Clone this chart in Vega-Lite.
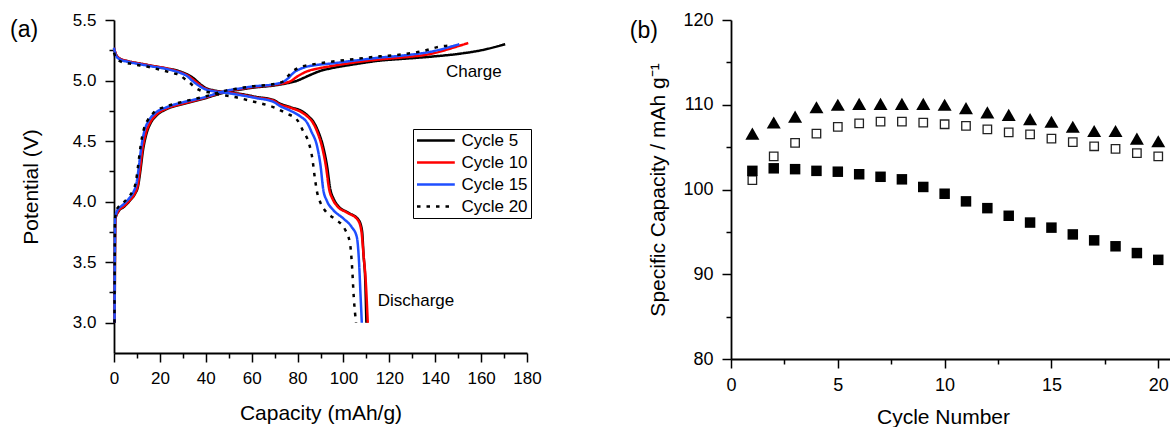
{
  "$schema": "https://vega.github.io/schema/vega-lite/v6.json",
  "padding": {"left": 10, "top": 11, "right": 0, "bottom": 0},
  "spacing": 87,
  "config": {
    "view": {"stroke": null},
    "font": "Liberation Sans",
    "axis": {"domainColor": "black", "tickColor": "black", "labelColor": "black", "titleColor": "black", "grid": false, "titleFontWeight": "normal", "labelFont": "Liberation Sans", "titleFont": "Liberation Sans", "domainWidth": 1.8, "tickWidth": 1.5, "labelOverlap": false, "labelFlush": false, "labelBound": false},
    "text": {"font": "Liberation Sans", "color": "black"}
  },
  "datasets": {
    "curves": [
      {"cycle":"Cycle 5","branch":"charge","cap":0.3,"v":3.0},{"cycle":"Cycle 5","branch":"charge","cap":0.4,"v":3.5},{"cycle":"Cycle 5","branch":"charge","cap":0.6,"v":3.86},{"cycle":"Cycle 5","branch":"charge","cap":2,"v":3.92},{"cycle":"Cycle 5","branch":"charge","cap":4.5,"v":3.96},{"cycle":"Cycle 5","branch":"charge","cap":7,"v":4.01},{"cycle":"Cycle 5","branch":"charge","cap":9,"v":4.06},{"cycle":"Cycle 5","branch":"charge","cap":10.5,"v":4.13},{"cycle":"Cycle 5","branch":"charge","cap":11.6,"v":4.27},{"cycle":"Cycle 5","branch":"charge","cap":12.6,"v":4.42},{"cycle":"Cycle 5","branch":"charge","cap":14,"v":4.55},{"cycle":"Cycle 5","branch":"charge","cap":16,"v":4.65},{"cycle":"Cycle 5","branch":"charge","cap":18.5,"v":4.71},{"cycle":"Cycle 5","branch":"charge","cap":23,"v":4.765},{"cycle":"Cycle 5","branch":"charge","cap":30,"v":4.805},{"cycle":"Cycle 5","branch":"charge","cap":40,"v":4.855},{"cycle":"Cycle 5","branch":"charge","cap":45,"v":4.885},{"cycle":"Cycle 5","branch":"charge","cap":50,"v":4.91},{"cycle":"Cycle 5","branch":"charge","cap":55,"v":4.925},{"cycle":"Cycle 5","branch":"charge","cap":60,"v":4.94},{"cycle":"Cycle 5","branch":"charge","cap":70,"v":4.96},{"cycle":"Cycle 5","branch":"charge","cap":76,"v":4.98},{"cycle":"Cycle 5","branch":"charge","cap":80,"v":5.0},{"cycle":"Cycle 5","branch":"charge","cap":83,"v":5.025},{"cycle":"Cycle 5","branch":"charge","cap":86,"v":5.05},{"cycle":"Cycle 5","branch":"charge","cap":90,"v":5.08},{"cycle":"Cycle 5","branch":"charge","cap":94.3,"v":5.1},{"cycle":"Cycle 5","branch":"charge","cap":105,"v":5.135},{"cycle":"Cycle 5","branch":"charge","cap":116,"v":5.165},{"cycle":"Cycle 5","branch":"charge","cap":125,"v":5.178},{"cycle":"Cycle 5","branch":"charge","cap":138,"v":5.197},{"cycle":"Cycle 5","branch":"charge","cap":150,"v":5.22},{"cycle":"Cycle 5","branch":"charge","cap":160,"v":5.25},{"cycle":"Cycle 5","branch":"charge","cap":170.5,"v":5.3},
      {"cycle":"Cycle 5","branch":"discharge","cap":0,"v":5.26},{"cycle":"Cycle 5","branch":"discharge","cap":1,"v":5.21},{"cycle":"Cycle 5","branch":"discharge","cap":2.6,"v":5.18},{"cycle":"Cycle 5","branch":"discharge","cap":6,"v":5.16},{"cycle":"Cycle 5","branch":"discharge","cap":11.3,"v":5.14},{"cycle":"Cycle 5","branch":"discharge","cap":17,"v":5.12},{"cycle":"Cycle 5","branch":"discharge","cap":23,"v":5.1},{"cycle":"Cycle 5","branch":"discharge","cap":27,"v":5.085},{"cycle":"Cycle 5","branch":"discharge","cap":30.2,"v":5.065},{"cycle":"Cycle 5","branch":"discharge","cap":32.5,"v":5.045},{"cycle":"Cycle 5","branch":"discharge","cap":34.6,"v":5.02},{"cycle":"Cycle 5","branch":"discharge","cap":37,"v":4.98},{"cycle":"Cycle 5","branch":"discharge","cap":39,"v":4.95},{"cycle":"Cycle 5","branch":"discharge","cap":41,"v":4.93},{"cycle":"Cycle 5","branch":"discharge","cap":43.3,"v":4.92},{"cycle":"Cycle 5","branch":"discharge","cap":50,"v":4.9},{"cycle":"Cycle 5","branch":"discharge","cap":55,"v":4.89},{"cycle":"Cycle 5","branch":"discharge","cap":62,"v":4.865},{"cycle":"Cycle 5","branch":"discharge","cap":69.4,"v":4.84},{"cycle":"Cycle 5","branch":"discharge","cap":72.3,"v":4.81},{"cycle":"Cycle 5","branch":"discharge","cap":77,"v":4.78},{"cycle":"Cycle 5","branch":"discharge","cap":82.5,"v":4.74},{"cycle":"Cycle 5","branch":"discharge","cap":85,"v":4.7},{"cycle":"Cycle 5","branch":"discharge","cap":86.9,"v":4.66},{"cycle":"Cycle 5","branch":"discharge","cap":89,"v":4.58},{"cycle":"Cycle 5","branch":"discharge","cap":91.2,"v":4.45},{"cycle":"Cycle 5","branch":"discharge","cap":92.8,"v":4.3},{"cycle":"Cycle 5","branch":"discharge","cap":94.3,"v":4.1},{"cycle":"Cycle 5","branch":"discharge","cap":95.8,"v":4.02},{"cycle":"Cycle 5","branch":"discharge","cap":97.9,"v":3.96},{"cycle":"Cycle 5","branch":"discharge","cap":102,"v":3.91},{"cycle":"Cycle 5","branch":"discharge","cap":106.6,"v":3.85},{"cycle":"Cycle 5","branch":"discharge","cap":108.1,"v":3.76},{"cycle":"Cycle 5","branch":"discharge","cap":108.8,"v":3.55},{"cycle":"Cycle 5","branch":"discharge","cap":109.5,"v":3.35},{"cycle":"Cycle 5","branch":"discharge","cap":110,"v":3.0},
      {"cycle":"Cycle 10","branch":"charge","cap":0.3,"v":3.0},{"cycle":"Cycle 10","branch":"charge","cap":0.4,"v":3.5},{"cycle":"Cycle 10","branch":"charge","cap":0.6,"v":3.86},{"cycle":"Cycle 10","branch":"charge","cap":2,"v":3.925},{"cycle":"Cycle 10","branch":"charge","cap":4.5,"v":3.965},{"cycle":"Cycle 10","branch":"charge","cap":7,"v":4.015},{"cycle":"Cycle 10","branch":"charge","cap":9,"v":4.065},{"cycle":"Cycle 10","branch":"charge","cap":10.4,"v":4.14},{"cycle":"Cycle 10","branch":"charge","cap":11.4,"v":4.28},{"cycle":"Cycle 10","branch":"charge","cap":12.4,"v":4.43},{"cycle":"Cycle 10","branch":"charge","cap":13.8,"v":4.56},{"cycle":"Cycle 10","branch":"charge","cap":15.8,"v":4.655},{"cycle":"Cycle 10","branch":"charge","cap":18.3,"v":4.715},{"cycle":"Cycle 10","branch":"charge","cap":23,"v":4.77},{"cycle":"Cycle 10","branch":"charge","cap":30,"v":4.81},{"cycle":"Cycle 10","branch":"charge","cap":40,"v":4.86},{"cycle":"Cycle 10","branch":"charge","cap":45,"v":4.89},{"cycle":"Cycle 10","branch":"charge","cap":50,"v":4.915},{"cycle":"Cycle 10","branch":"charge","cap":55,"v":4.93},{"cycle":"Cycle 10","branch":"charge","cap":60,"v":4.945},{"cycle":"Cycle 10","branch":"charge","cap":70,"v":4.965},{"cycle":"Cycle 10","branch":"charge","cap":74,"v":4.978},{"cycle":"Cycle 10","branch":"charge","cap":77,"v":4.995},{"cycle":"Cycle 10","branch":"charge","cap":79.6,"v":5.03},{"cycle":"Cycle 10","branch":"charge","cap":84,"v":5.075},{"cycle":"Cycle 10","branch":"charge","cap":89,"v":5.1},{"cycle":"Cycle 10","branch":"charge","cap":94.3,"v":5.118},{"cycle":"Cycle 10","branch":"charge","cap":105,"v":5.15},{"cycle":"Cycle 10","branch":"charge","cap":116,"v":5.175},{"cycle":"Cycle 10","branch":"charge","cap":125,"v":5.19},{"cycle":"Cycle 10","branch":"charge","cap":138,"v":5.22},{"cycle":"Cycle 10","branch":"charge","cap":149.3,"v":5.28},{"cycle":"Cycle 10","branch":"charge","cap":154.4,"v":5.31},
      {"cycle":"Cycle 10","branch":"discharge","cap":0,"v":5.27},{"cycle":"Cycle 10","branch":"discharge","cap":1,"v":5.21},{"cycle":"Cycle 10","branch":"discharge","cap":2.6,"v":5.18},{"cycle":"Cycle 10","branch":"discharge","cap":6,"v":5.16},{"cycle":"Cycle 10","branch":"discharge","cap":11.3,"v":5.14},{"cycle":"Cycle 10","branch":"discharge","cap":17,"v":5.12},{"cycle":"Cycle 10","branch":"discharge","cap":23,"v":5.1},{"cycle":"Cycle 10","branch":"discharge","cap":27,"v":5.08},{"cycle":"Cycle 10","branch":"discharge","cap":30,"v":5.06},{"cycle":"Cycle 10","branch":"discharge","cap":32.3,"v":5.04},{"cycle":"Cycle 10","branch":"discharge","cap":34.3,"v":5.01},{"cycle":"Cycle 10","branch":"discharge","cap":36.7,"v":4.975},{"cycle":"Cycle 10","branch":"discharge","cap":38.7,"v":4.945},{"cycle":"Cycle 10","branch":"discharge","cap":41,"v":4.925},{"cycle":"Cycle 10","branch":"discharge","cap":43.3,"v":4.915},{"cycle":"Cycle 10","branch":"discharge","cap":50,"v":4.9},{"cycle":"Cycle 10","branch":"discharge","cap":55,"v":4.885},{"cycle":"Cycle 10","branch":"discharge","cap":62,"v":4.86},{"cycle":"Cycle 10","branch":"discharge","cap":69.4,"v":4.835},{"cycle":"Cycle 10","branch":"discharge","cap":72,"v":4.805},{"cycle":"Cycle 10","branch":"discharge","cap":77,"v":4.775},{"cycle":"Cycle 10","branch":"discharge","cap":82,"v":4.735},{"cycle":"Cycle 10","branch":"discharge","cap":84.5,"v":4.7},{"cycle":"Cycle 10","branch":"discharge","cap":86.4,"v":4.66},{"cycle":"Cycle 10","branch":"discharge","cap":88.5,"v":4.58},{"cycle":"Cycle 10","branch":"discharge","cap":90.7,"v":4.45},{"cycle":"Cycle 10","branch":"discharge","cap":92.3,"v":4.3},{"cycle":"Cycle 10","branch":"discharge","cap":93.8,"v":4.1},{"cycle":"Cycle 10","branch":"discharge","cap":95.3,"v":4.02},{"cycle":"Cycle 10","branch":"discharge","cap":97.4,"v":3.96},{"cycle":"Cycle 10","branch":"discharge","cap":101.5,"v":3.91},{"cycle":"Cycle 10","branch":"discharge","cap":106.2,"v":3.85},{"cycle":"Cycle 10","branch":"discharge","cap":107.8,"v":3.76},{"cycle":"Cycle 10","branch":"discharge","cap":108.8,"v":3.55},{"cycle":"Cycle 10","branch":"discharge","cap":109.7,"v":3.35},{"cycle":"Cycle 10","branch":"discharge","cap":110.6,"v":3.0},
      {"cycle":"Cycle 15","branch":"charge","cap":0.25,"v":3.0},{"cycle":"Cycle 15","branch":"charge","cap":0.35,"v":3.5},{"cycle":"Cycle 15","branch":"charge","cap":0.5,"v":3.86},{"cycle":"Cycle 15","branch":"charge","cap":1.5,"v":3.93},{"cycle":"Cycle 15","branch":"charge","cap":4,"v":3.975},{"cycle":"Cycle 15","branch":"charge","cap":6.5,"v":4.025},{"cycle":"Cycle 15","branch":"charge","cap":8.5,"v":4.08},{"cycle":"Cycle 15","branch":"charge","cap":9.9,"v":4.16},{"cycle":"Cycle 15","branch":"charge","cap":10.9,"v":4.3},{"cycle":"Cycle 15","branch":"charge","cap":11.9,"v":4.45},{"cycle":"Cycle 15","branch":"charge","cap":13.2,"v":4.58},{"cycle":"Cycle 15","branch":"charge","cap":15.2,"v":4.67},{"cycle":"Cycle 15","branch":"charge","cap":17.9,"v":4.73},{"cycle":"Cycle 15","branch":"charge","cap":23,"v":4.78},{"cycle":"Cycle 15","branch":"charge","cap":30,"v":4.82},{"cycle":"Cycle 15","branch":"charge","cap":40,"v":4.865},{"cycle":"Cycle 15","branch":"charge","cap":45,"v":4.895},{"cycle":"Cycle 15","branch":"charge","cap":50,"v":4.92},{"cycle":"Cycle 15","branch":"charge","cap":55,"v":4.935},{"cycle":"Cycle 15","branch":"charge","cap":60,"v":4.95},{"cycle":"Cycle 15","branch":"charge","cap":70,"v":4.97},{"cycle":"Cycle 15","branch":"charge","cap":73.8,"v":4.99},{"cycle":"Cycle 15","branch":"charge","cap":76,"v":5.02},{"cycle":"Cycle 15","branch":"charge","cap":78,"v":5.06},{"cycle":"Cycle 15","branch":"charge","cap":82.4,"v":5.105},{"cycle":"Cycle 15","branch":"charge","cap":88,"v":5.128},{"cycle":"Cycle 15","branch":"charge","cap":94.3,"v":5.14},{"cycle":"Cycle 15","branch":"charge","cap":105,"v":5.165},{"cycle":"Cycle 15","branch":"charge","cap":116,"v":5.19},{"cycle":"Cycle 15","branch":"charge","cap":125,"v":5.205},{"cycle":"Cycle 15","branch":"charge","cap":138,"v":5.238},{"cycle":"Cycle 15","branch":"charge","cap":150.5,"v":5.3},
      {"cycle":"Cycle 15","branch":"discharge","cap":0,"v":5.27},{"cycle":"Cycle 15","branch":"discharge","cap":1,"v":5.2},{"cycle":"Cycle 15","branch":"discharge","cap":2.6,"v":5.175},{"cycle":"Cycle 15","branch":"discharge","cap":6,"v":5.155},{"cycle":"Cycle 15","branch":"discharge","cap":11.3,"v":5.135},{"cycle":"Cycle 15","branch":"discharge","cap":17,"v":5.115},{"cycle":"Cycle 15","branch":"discharge","cap":23,"v":5.095},{"cycle":"Cycle 15","branch":"discharge","cap":27,"v":5.075},{"cycle":"Cycle 15","branch":"discharge","cap":30,"v":5.055},{"cycle":"Cycle 15","branch":"discharge","cap":32,"v":5.035},{"cycle":"Cycle 15","branch":"discharge","cap":34,"v":5.0},{"cycle":"Cycle 15","branch":"discharge","cap":36.4,"v":4.965},{"cycle":"Cycle 15","branch":"discharge","cap":38.5,"v":4.94},{"cycle":"Cycle 15","branch":"discharge","cap":41,"v":4.92},{"cycle":"Cycle 15","branch":"discharge","cap":43.3,"v":4.912},{"cycle":"Cycle 15","branch":"discharge","cap":50,"v":4.895},{"cycle":"Cycle 15","branch":"discharge","cap":55,"v":4.88},{"cycle":"Cycle 15","branch":"discharge","cap":62,"v":4.855},{"cycle":"Cycle 15","branch":"discharge","cap":69.4,"v":4.825},{"cycle":"Cycle 15","branch":"discharge","cap":72.3,"v":4.79},{"cycle":"Cycle 15","branch":"discharge","cap":77,"v":4.75},{"cycle":"Cycle 15","branch":"discharge","cap":81.5,"v":4.7},{"cycle":"Cycle 15","branch":"discharge","cap":83.9,"v":4.66},{"cycle":"Cycle 15","branch":"discharge","cap":86,"v":4.58},{"cycle":"Cycle 15","branch":"discharge","cap":88.6,"v":4.45},{"cycle":"Cycle 15","branch":"discharge","cap":90,"v":4.3},{"cycle":"Cycle 15","branch":"discharge","cap":91.2,"v":4.1},{"cycle":"Cycle 15","branch":"discharge","cap":92.7,"v":4.01},{"cycle":"Cycle 15","branch":"discharge","cap":95.6,"v":3.93},{"cycle":"Cycle 15","branch":"discharge","cap":100,"v":3.86},{"cycle":"Cycle 15","branch":"discharge","cap":103.6,"v":3.79},{"cycle":"Cycle 15","branch":"discharge","cap":105.8,"v":3.71},{"cycle":"Cycle 15","branch":"discharge","cap":106.8,"v":3.5},{"cycle":"Cycle 15","branch":"discharge","cap":107.4,"v":3.25},{"cycle":"Cycle 15","branch":"discharge","cap":108,"v":3.0},
      {"cycle":"Cycle 20","branch":"charge","cap":0.2,"v":3.0},{"cycle":"Cycle 20","branch":"charge","cap":0.3,"v":3.5},{"cycle":"Cycle 20","branch":"charge","cap":0.45,"v":3.86},{"cycle":"Cycle 20","branch":"charge","cap":1.3,"v":3.94},{"cycle":"Cycle 20","branch":"charge","cap":3.8,"v":3.985},{"cycle":"Cycle 20","branch":"charge","cap":6.2,"v":4.035},{"cycle":"Cycle 20","branch":"charge","cap":8.2,"v":4.09},{"cycle":"Cycle 20","branch":"charge","cap":9.6,"v":4.17},{"cycle":"Cycle 20","branch":"charge","cap":10.6,"v":4.31},{"cycle":"Cycle 20","branch":"charge","cap":11.6,"v":4.46},{"cycle":"Cycle 20","branch":"charge","cap":12.9,"v":4.59},{"cycle":"Cycle 20","branch":"charge","cap":14.9,"v":4.68},{"cycle":"Cycle 20","branch":"charge","cap":17.6,"v":4.74},{"cycle":"Cycle 20","branch":"charge","cap":22.7,"v":4.785},{"cycle":"Cycle 20","branch":"charge","cap":30,"v":4.825},{"cycle":"Cycle 20","branch":"charge","cap":40,"v":4.87},{"cycle":"Cycle 20","branch":"charge","cap":45,"v":4.898},{"cycle":"Cycle 20","branch":"charge","cap":50,"v":4.922},{"cycle":"Cycle 20","branch":"charge","cap":55,"v":4.937},{"cycle":"Cycle 20","branch":"charge","cap":60,"v":4.952},{"cycle":"Cycle 20","branch":"charge","cap":70,"v":4.972},{"cycle":"Cycle 20","branch":"charge","cap":73.5,"v":4.99},{"cycle":"Cycle 20","branch":"charge","cap":75.5,"v":5.03},{"cycle":"Cycle 20","branch":"charge","cap":77.5,"v":5.07},{"cycle":"Cycle 20","branch":"charge","cap":82,"v":5.115},{"cycle":"Cycle 20","branch":"charge","cap":88,"v":5.138},{"cycle":"Cycle 20","branch":"charge","cap":94.3,"v":5.155},{"cycle":"Cycle 20","branch":"charge","cap":105,"v":5.178},{"cycle":"Cycle 20","branch":"charge","cap":116,"v":5.2},{"cycle":"Cycle 20","branch":"charge","cap":125,"v":5.215},{"cycle":"Cycle 20","branch":"charge","cap":135,"v":5.245},{"cycle":"Cycle 20","branch":"charge","cap":142,"v":5.28},{"cycle":"Cycle 20","branch":"charge","cap":147.5,"v":5.29},
      {"cycle":"Cycle 20","branch":"discharge","cap":0,"v":5.23},{"cycle":"Cycle 20","branch":"discharge","cap":1,"v":5.18},{"cycle":"Cycle 20","branch":"discharge","cap":2.6,"v":5.16},{"cycle":"Cycle 20","branch":"discharge","cap":7,"v":5.14},{"cycle":"Cycle 20","branch":"discharge","cap":15.7,"v":5.11},{"cycle":"Cycle 20","branch":"discharge","cap":22,"v":5.08},{"cycle":"Cycle 20","branch":"discharge","cap":26,"v":5.06},{"cycle":"Cycle 20","branch":"discharge","cap":28.8,"v":5.045},{"cycle":"Cycle 20","branch":"discharge","cap":31,"v":5.01},{"cycle":"Cycle 20","branch":"discharge","cap":33.1,"v":4.98},{"cycle":"Cycle 20","branch":"discharge","cap":35.5,"v":4.94},{"cycle":"Cycle 20","branch":"discharge","cap":37.5,"v":4.92},{"cycle":"Cycle 20","branch":"discharge","cap":42,"v":4.9},{"cycle":"Cycle 20","branch":"discharge","cap":46,"v":4.885},{"cycle":"Cycle 20","branch":"discharge","cap":52,"v":4.866},{"cycle":"Cycle 20","branch":"discharge","cap":60,"v":4.83},{"cycle":"Cycle 20","branch":"discharge","cap":69.4,"v":4.78},{"cycle":"Cycle 20","branch":"discharge","cap":75,"v":4.73},{"cycle":"Cycle 20","branch":"discharge","cap":80,"v":4.67},{"cycle":"Cycle 20","branch":"discharge","cap":82.5,"v":4.58},{"cycle":"Cycle 20","branch":"discharge","cap":85,"v":4.48},{"cycle":"Cycle 20","branch":"discharge","cap":86.5,"v":4.35},{"cycle":"Cycle 20","branch":"discharge","cap":87.5,"v":4.2},{"cycle":"Cycle 20","branch":"discharge","cap":88.5,"v":4.08},{"cycle":"Cycle 20","branch":"discharge","cap":90,"v":3.99},{"cycle":"Cycle 20","branch":"discharge","cap":92.7,"v":3.91},{"cycle":"Cycle 20","branch":"discharge","cap":96,"v":3.86},{"cycle":"Cycle 20","branch":"discharge","cap":100.7,"v":3.77},{"cycle":"Cycle 20","branch":"discharge","cap":102.9,"v":3.65},{"cycle":"Cycle 20","branch":"discharge","cap":103.8,"v":3.45},{"cycle":"Cycle 20","branch":"discharge","cap":104.5,"v":3.21},{"cycle":"Cycle 20","branch":"discharge","cap":105.5,"v":3.0}
    ],
    "notesA": [
      {"label":"Charge","cap":156.8,"v":5.031},
      {"label":"Discharge","cap":131.6,"v":3.139}
    ],
    "panelA": [{"label":"(a)","cap":-39.2,"v":5.417}],
    "panelB": [{"label":"(b)","cycle":-4.08,"value":118.73}],
    "cycling": [
      {"cycle":1,"series":"Series 1","value":106.6},{"cycle":2,"series":"Series 1","value":107.9},{"cycle":3,"series":"Series 1","value":108.6},{"cycle":4,"series":"Series 1","value":109.7},{"cycle":5,"series":"Series 1","value":110.0},{"cycle":6,"series":"Series 1","value":110.1},{"cycle":7,"series":"Series 1","value":110.1},{"cycle":8,"series":"Series 1","value":110.1},{"cycle":9,"series":"Series 1","value":110.1},{"cycle":10,"series":"Series 1","value":110.0},{"cycle":11,"series":"Series 1","value":109.6},{"cycle":12,"series":"Series 1","value":109.1},{"cycle":13,"series":"Series 1","value":108.8},{"cycle":14,"series":"Series 1","value":108.3},{"cycle":15,"series":"Series 1","value":108.0},{"cycle":16,"series":"Series 1","value":107.4},{"cycle":17,"series":"Series 1","value":106.9},{"cycle":18,"series":"Series 1","value":106.9},{"cycle":19,"series":"Series 1","value":106.0},{"cycle":20,"series":"Series 1","value":105.7},
      {"cycle":1,"series":"Series 2","value":101.1},{"cycle":2,"series":"Series 2","value":103.9},{"cycle":3,"series":"Series 2","value":105.5},{"cycle":4,"series":"Series 2","value":106.6},{"cycle":5,"series":"Series 2","value":107.4},{"cycle":6,"series":"Series 2","value":107.8},{"cycle":7,"series":"Series 2","value":108.0},{"cycle":8,"series":"Series 2","value":108.0},{"cycle":9,"series":"Series 2","value":107.9},{"cycle":10,"series":"Series 2","value":107.7},{"cycle":11,"series":"Series 2","value":107.5},{"cycle":12,"series":"Series 2","value":107.1},{"cycle":13,"series":"Series 2","value":106.75},{"cycle":14,"series":"Series 2","value":106.5},{"cycle":15,"series":"Series 2","value":106.0},{"cycle":16,"series":"Series 2","value":105.6},{"cycle":17,"series":"Series 2","value":105.1},{"cycle":18,"series":"Series 2","value":104.8},{"cycle":19,"series":"Series 2","value":104.3},{"cycle":20,"series":"Series 2","value":103.9},
      {"cycle":1,"series":"Series 3","value":102.2},{"cycle":2,"series":"Series 3","value":102.5},{"cycle":3,"series":"Series 3","value":102.4},{"cycle":4,"series":"Series 3","value":102.2},{"cycle":5,"series":"Series 3","value":102.1},{"cycle":6,"series":"Series 3","value":101.8},{"cycle":7,"series":"Series 3","value":101.5},{"cycle":8,"series":"Series 3","value":101.2},{"cycle":9,"series":"Series 3","value":100.3},{"cycle":10,"series":"Series 3","value":99.5},{"cycle":11,"series":"Series 3","value":98.6},{"cycle":12,"series":"Series 3","value":97.8},{"cycle":13,"series":"Series 3","value":96.9},{"cycle":14,"series":"Series 3","value":96.1},{"cycle":15,"series":"Series 3","value":95.5},{"cycle":16,"series":"Series 3","value":94.7},{"cycle":17,"series":"Series 3","value":94.0},{"cycle":18,"series":"Series 3","value":93.3},{"cycle":19,"series":"Series 3","value":92.5},{"cycle":20,"series":"Series 3","value":91.7}
    ]
  },
  "hconcat": [
    {
      "width": 413,
      "height": 333,
      "encoding": {
        "x": {"field": "cap", "type": "quantitative", "scale": {"domain": [0, 180], "nice": false},
          "axis": {"title": "Capacity (mAh/g)", "values": [0,10,20,30,40,50,60,70,80,90,100,110,120,130,140,150,160,170,180], "labelExpr": "datum.value % 20 === 0 ? datum.label : ''", "tickSize": {"condition": {"test": "datum.value % 20 === 0", "value": 9}, "value": 5}, "labelFontSize": 17, "titleFontSize": 21, "labelPadding": 8, "titlePadding": 16}},
        "y": {"field": "v", "type": "quantitative", "scale": {"domain": [2.75, 5.5], "nice": false, "zero": false},
          "axis": {"title": "Potential (V)", "values": [3.0,3.25,3.5,3.75,4.0,4.25,4.5,4.75,5.0,5.25,5.5], "format": ".1f", "labelExpr": "datum.value % 0.5 === 0 ? datum.label : ''", "tickSize": {"condition": {"test": "datum.value % 0.5 === 0", "value": 9}, "value": 5}, "labelFontSize": 17, "titleFontSize": 21, "labelPadding": 9, "titlePadding": 31}}
      },
      "layer": [
        {
          "data": {"name": "curves"},
          "mark": {"type": "line", "strokeWidth": 2.5, "strokeCap": "butt", "interpolate": "monotone"},
          "encoding": {
            "color": {"field": "cycle", "type": "nominal", "scale": {"domain": ["Cycle 5","Cycle 10","Cycle 15","Cycle 20"], "range": ["#000000","#ff0000","#1f4fff","#000000"]},
              "legend": {"title": null, "orient": "none", "legendX": 299, "legendY": 109, "strokeColor": "black", "fillColor": "white", "padding": 3, "rowPadding": 4, "labelOffset": 17, "symbolOffset": 11.4, "labelFontSize": 17, "labelColor": "black", "symbolType": "M-2.7,0H2.7", "symbolSize": 196, "symbolStrokeWidth": 2.5}},
            "strokeDash": {"field": "cycle", "type": "nominal", "scale": {"domain": ["Cycle 5","Cycle 10","Cycle 15","Cycle 20"], "range": [[1,0],[1,0],[1,0],[3.5,6]]},
              "legend": {"title": null, "orient": "none", "legendX": 299, "legendY": 109, "strokeColor": "black", "fillColor": "white", "padding": 3, "rowPadding": 4, "labelOffset": 17, "symbolOffset": 11.4, "labelFontSize": 17, "labelColor": "black", "symbolType": "M-2.7,0H2.7", "symbolSize": 196, "symbolStrokeWidth": 2.5}},
            "detail": {"field": "branch", "type": "nominal"}
          }
        },
        {
          "data": {"name": "notesA"},
          "mark": {"type": "text", "fontSize": 17, "align": "center", "baseline": "alphabetic"},
          "encoding": {"text": {"field": "label"}}
        },
        {
          "data": {"name": "panelA"},
          "mark": {"type": "text", "fontSize": 23, "align": "center", "baseline": "middle"},
          "encoding": {"text": {"field": "label"}}
        }
      ]
    },
    {
      "width": 439,
      "height": 339,
      "encoding": {
        "x": {"field": "cycle", "type": "quantitative", "scale": {"domain": [0, 20.55], "nice": false},
          "axis": {"title": "Cycle Number", "values": [0,2.5,5,7.5,10,12.5,15,17.5,20], "labelExpr": "datum.value % 5 === 0 ? datum.label : ''", "tickSize": {"condition": {"test": "datum.value % 5 === 0", "value": 9}, "value": 5}, "labelFontSize": 18, "titleFontSize": 21, "labelPadding": 8, "titlePadding": 12, "titleX": 212}},
        "y": {"field": "value", "type": "quantitative", "scale": {"domain": [80, 120], "nice": false, "zero": false},
          "axis": {"title": "Specific Capacity / mAh g⁻¹", "values": [80,85,90,95,100,105,110,115,120], "labelExpr": "datum.value % 10 === 0 ? datum.label : ''", "tickSize": {"condition": {"test": "datum.value % 10 === 0", "value": 9}, "value": 5}, "labelFontSize": 18, "titleFontSize": 21, "labelPadding": 9, "titlePadding": 14}}
      },
      "layer": [
        {
          "data": {"name": "cycling"},
          "transform": [{"filter": "datum.series === 'Series 1'"}],
          "mark": {"type": "point", "shape": "triangle-up", "filled": true, "color": "black", "opacity": 1, "size": 196}
        },
        {
          "data": {"name": "cycling"},
          "transform": [{"filter": "datum.series === 'Series 2'"}],
          "mark": {"type": "point", "shape": "square", "filled": false, "stroke": "#222222", "strokeWidth": 1.3, "opacity": 1, "size": 72}
        },
        {
          "data": {"name": "cycling"},
          "transform": [{"filter": "datum.series === 'Series 3'"}],
          "mark": {"type": "point", "shape": "square", "filled": true, "color": "black", "opacity": 1, "size": 110}
        },
        {
          "data": {"name": "panelB"},
          "mark": {"type": "text", "fontSize": 23, "align": "center", "baseline": "middle"},
          "encoding": {"text": {"field": "label"}}
        }
      ]
    }
  ]
}
